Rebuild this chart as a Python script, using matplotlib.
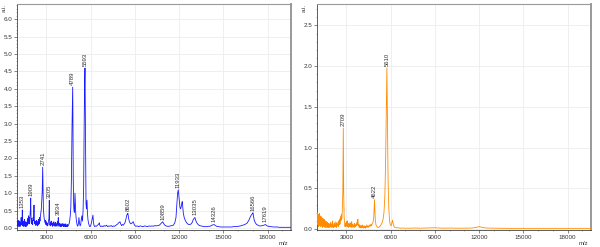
import matplotlib
matplotlib.use("Agg")
import matplotlib.pyplot as plt
from matplotlib.ticker import MultipleLocator, FormatStrFormatter

plt.rcParams['font.family'] = ['Liberation Sans', 'DejaVu Sans']

# ---------------- data: left spectrum (blue) ----------------
left_mz = [1000, 1020, 1040, 1060, 1080, 1100, 1120, 1140, 1160, 1180, 1200, 1220, 1240, 1260, 1280, 1300, 1320, 1340,
           1360, 1380, 1400, 1420, 1440, 1460, 1480, 1500, 1520, 1540, 1560, 1580, 1600, 1620, 1640, 1660, 1680, 1700,
           1720, 1740, 1760, 1780, 1800, 1820, 1840, 1860, 1880, 1905, 1930, 1950, 1970, 1990, 2010, 2030, 2060, 2090,
           2120, 2153, 2175, 2200, 2225, 2250, 2275, 2300, 2325, 2350, 2375, 2400, 2425, 2450, 2475, 2500, 2530, 2560,
           2590, 2620, 2650, 2680, 2710, 2742, 2765, 2790, 2815, 2840, 2870, 2900, 2930, 2960, 2990, 3020, 3050, 3080,
           3110, 3140, 3165, 3190, 3210, 3235, 3260, 3290, 3320, 3350, 3380, 3410, 3440, 3470, 3500, 3530, 3560, 3590,
           3620, 3650, 3680, 3710, 3740, 3770, 3800, 3825, 3850, 3880, 3910, 3940, 3970, 4000, 4030, 4060, 4090, 4120,
           4150, 4180, 4210, 4240, 4270, 4300, 4330, 4360, 4390, 4420, 4450, 4490, 4530, 4570, 4610, 4650, 4690, 4730,
           4760, 4776, 4795, 4815, 4840, 4865, 4890, 4910, 4932, 4955, 4980, 5010, 5040, 5080, 5120, 5160, 5200, 5240,
           5280, 5320, 5360, 5400, 5440, 5480, 5520, 5560, 5590, 5610, 5630, 5655, 5680, 5710, 5746, 5775, 5810, 5850,
           5890, 5930, 5980, 6030, 6080, 6120, 6150, 6180, 6220, 6270, 6330, 6390, 6450, 6510, 6550, 6580, 6620, 6680,
           6750, 6830, 6910, 6990, 7070, 7150, 7230, 7310, 7390, 7470, 7550, 7630, 7710, 7780, 7840, 7890, 7940, 7983,
           8030, 8090, 8150, 8210, 8270, 8330, 8390, 8450, 8490, 8520, 8560, 8610, 8670, 8730, 8790, 8840, 8885, 8930,
           8990, 9060, 9150, 9250, 9350, 9450, 9550, 9650, 9750, 9850, 9950, 10050, 10150, 10250, 10350, 10450, 10550,
           10650, 10740, 10820, 10878, 10930, 11000, 11100, 11200, 11300, 11400, 11500, 11600, 11700, 11780, 11840,
           11890, 11935, 11970, 12010, 12050, 12090, 12140, 12180, 12207, 12240, 12280, 12340, 12410, 12490, 12570,
           12650, 12730, 12810, 12880, 12950, 13010, 13068, 13120, 13190, 13280, 13380, 13480, 13580, 13680, 13780,
           13880, 13980, 14080, 14180, 14270, 14356, 14430, 14530, 14650, 14800, 14950, 15100, 15250, 15400, 15550,
           15700, 15850, 16000, 16150, 16300, 16450, 16600, 16720, 16820, 16900, 16960, 17000, 17040, 17090, 17160,
           17250, 17350, 17450, 17550, 17650, 17730, 17790, 17850, 17900, 17960, 18050, 18200, 18400, 18600, 18800,
           19000, 19200, 19400, 19580]
left_int = [0.12, 0.05, 0.18, 0.08, 0.22, 0.06, 0.15, 0.04, 0.20, 0.07, 0.13, 0.05, 0.17, 0.08, 0.30, 0.10, 0.22, 0.14,
            0.52, 0.15, 0.06, 0.20, 0.05, 0.14, 0.07, 0.25, 0.06, 0.12, 0.04, 0.18, 0.06, 0.10, 0.05, 0.16, 0.07, 0.22,
            0.10, 0.28, 0.12, 0.35, 0.15, 0.30, 0.12, 0.25, 0.40, 0.50, 0.86, 0.30, 0.15, 0.28, 0.12, 0.22, 0.10, 0.30,
            0.22, 0.66, 0.25, 0.12, 0.20, 0.08, 0.18, 0.10, 0.22, 0.08, 0.15, 0.06, 0.20, 0.10, 0.25, 0.12, 0.30, 0.20,
            0.35, 0.45, 0.55, 0.80, 1.05, 1.75, 1.10, 0.55, 0.40, 0.28, 0.22, 0.15, 0.22, 0.10, 0.18, 0.08, 0.14, 0.06,
            0.12, 0.20, 0.28, 0.80, 0.22, 0.08, 0.15, 0.06, 0.20, 0.10, 0.15, 0.05, 0.13, 0.08, 0.18, 0.06, 0.12, 0.05,
            0.16, 0.08, 0.12, 0.05, 0.18, 0.10, 0.30, 0.10, 0.05, 0.14, 0.06, 0.12, 0.04, 0.10, 0.05, 0.13, 0.06, 0.11,
            0.04, 0.12, 0.05, 0.10, 0.04, 0.12, 0.05, 0.09, 0.04, 0.10, 0.05, 0.08, 0.12, 0.20, 0.35, 0.60, 1.40, 2.90,
            3.70, 4.05, 3.00, 1.40, 0.70, 0.50, 0.45, 0.70, 1.00, 0.75, 0.45, 0.28, 0.18, 0.08, 0.05, 0.12, 0.30, 0.14,
            0.06, 0.10, 0.25, 0.35, 0.20, 0.50, 1.20, 3.20, 4.20, 4.60, 3.40, 1.50, 0.70, 0.55, 0.80, 0.45, 0.25, 0.14,
            0.08, 0.04, 0.05, 0.12, 0.22, 0.30, 0.37, 0.18, 0.08, 0.04, 0.06, 0.05, 0.08, 0.10, 0.12, 0.15, 0.07, 0.04,
            0.06, 0.04, 0.07, 0.05, 0.08, 0.04, 0.06, 0.05, 0.07, 0.04, 0.06, 0.05, 0.08, 0.10, 0.12, 0.15, 0.16, 0.18,
            0.12, 0.07, 0.10, 0.08, 0.12, 0.16, 0.26, 0.38, 0.40, 0.42, 0.30, 0.20, 0.14, 0.12, 0.14, 0.17, 0.18, 0.12,
            0.07, 0.05, 0.06, 0.04, 0.06, 0.05, 0.04, 0.06, 0.05, 0.04, 0.06, 0.05, 0.06, 0.05, 0.07, 0.06, 0.07,
            0.08, 0.12, 0.16, 0.18, 0.14, 0.09, 0.06, 0.05, 0.05, 0.06, 0.07, 0.08, 0.15, 0.30, 0.70,
            1.00, 1.10, 0.95, 0.75, 0.60, 0.55, 0.62, 0.72, 0.76, 0.60, 0.42, 0.30, 0.22, 0.16, 0.12,
            0.10, 0.10, 0.12, 0.16, 0.24, 0.28, 0.30, 0.22, 0.15, 0.10, 0.07, 0.06, 0.05, 0.04, 0.04,
            0.04, 0.05, 0.05, 0.07, 0.09, 0.10, 0.08, 0.05, 0.04, 0.03, 0.03, 0.03, 0.03, 0.03, 0.03,
            0.04, 0.04, 0.05, 0.06, 0.08, 0.10, 0.14, 0.22, 0.32, 0.38, 0.41, 0.44, 0.33, 0.22, 0.15,
            0.10, 0.08, 0.06, 0.06, 0.07, 0.08, 0.09, 0.10, 0.08, 0.06, 0.05, 0.04, 0.03, 0.03, 0.02,
            0.02, 0.02, 0.02, 0.02]
left_peak_mz = [1360, 1930, 2742, 3190, 3800, 4776, 5610, 8520, 10878, 11935, 13068, 14356, 17000, 17850]
left_peak_int = [0.52, 0.86, 1.75, 0.80, 0.30, 4.05, 4.60, 0.42, 0.18, 1.10, 0.30, 0.10, 0.44, 0.10]
left_peak_lbl = ["1353", "1909", "2741", "3205", "3934", "4789", "5593", "8602", "10859", "11933", "13035",
                 "14326", "16566", "17619"]

# ---------------- data: right spectrum (orange) ----------------
right_mz = [1000, 1020, 1040, 1060, 1080, 1100, 1120, 1140, 1160, 1180, 1200, 1220, 1240, 1260, 1280, 1300, 1320,
            1340, 1360, 1380, 1400, 1420, 1440, 1460, 1480, 1500, 1520, 1540, 1560, 1580, 1600, 1620, 1640, 1660,
            1680, 1700, 1720, 1740, 1760, 1780, 1800, 1820, 1840, 1860, 1880, 1900, 1930, 1960, 1990, 2020, 2050,
            2080, 2110, 2140, 2170, 2200, 2230, 2260, 2290, 2320, 2350, 2380, 2410, 2440, 2470, 2500, 2530, 2560,
            2590, 2620, 2650, 2680, 2710, 2750, 2783, 2810, 2840, 2870, 2900, 2930, 2960, 2990, 3020, 3050, 3080,
            3110, 3140, 3170, 3200, 3230, 3260, 3290, 3320, 3350, 3380, 3410, 3440, 3470, 3500, 3530, 3560, 3590,
            3620, 3650, 3680, 3710, 3740, 3770, 3800, 3830, 3860, 3890, 3920, 3950, 3980, 4010, 4040, 4070, 4100,
            4130, 4160, 4190, 4220, 4250, 4280, 4310, 4340, 4380, 4420, 4460, 4500, 4550, 4600, 4650, 4700, 4750,
            4800, 4850, 4900, 4950, 5000, 5060, 5120, 5180, 5240, 5300, 5360, 5420, 5480, 5540, 5600, 5650, 5700,
            5740, 5780, 5820, 5870, 5920, 5970, 6020, 6070, 6120, 6170, 6220, 6270, 6320, 6400, 6500, 6650, 6800,
            7000, 7300, 7600, 8000, 8500, 9000, 9500, 10000, 10500, 11000, 11500, 11800, 12000, 12200, 12500, 13000,
            14000, 15000, 16000, 17000, 18000, 19000, 19580]
right_int = [0.15, 0.05, 0.20, 0.08, 0.18, 0.03, 0.14, 0.06, 0.19, 0.04, 0.12, 0.05, 0.16, 0.03, 0.11, 0.06, 0.15,
             0.04, 0.10, 0.02, 0.13, 0.05, 0.09, 0.03, 0.12, 0.04, 0.08, 0.02, 0.10, 0.04, 0.07, 0.02, 0.09, 0.03,
             0.06, 0.02, 0.08, 0.03, 0.05, 0.02, 0.07, 0.03, 0.06, 0.02, 0.05, 0.03, 0.08, 0.02, 0.06, 0.03, 0.10,
             0.02, 0.05, 0.02, 0.07, 0.03, 0.09, 0.03, 0.06, 0.02, 0.08, 0.04, 0.06, 0.03, 0.10, 0.05, 0.12, 0.06,
             0.15, 0.10, 0.18, 0.12, 0.20, 0.45, 1.24, 0.45, 0.15, 0.08, 0.03, 0.07, 0.03, 0.09, 0.04, 0.10, 0.03,
             0.07, 0.02, 0.06, 0.03, 0.08, 0.03, 0.07, 0.02, 0.09, 0.04, 0.06, 0.02, 0.05, 0.03, 0.07, 0.02, 0.05,
             0.03, 0.06, 0.04, 0.08, 0.05, 0.12, 0.04, 0.06, 0.02, 0.05, 0.02, 0.04, 0.01, 0.04, 0.02, 0.05, 0.02,
             0.04, 0.01, 0.03, 0.02, 0.04, 0.01, 0.03, 0.02, 0.05, 0.02, 0.04, 0.02, 0.05, 0.03, 0.06, 0.04, 0.07,
             0.08, 0.15, 0.36, 0.12, 0.05, 0.03, 0.02, 0.02, 0.03, 0.04, 0.06, 0.08, 0.12, 0.20, 0.40, 0.80, 1.50,
             1.98, 1.30, 0.60, 0.25, 0.10, 0.05, 0.04, 0.07, 0.11, 0.06, 0.03, 0.02, 0.02, 0.015, 0.015, 0.01, 0.012,
             0.01, 0.01, 0.012, 0.01, 0.012, 0.015, 0.01, 0.012, 0.01, 0.01, 0.012, 0.02, 0.03, 0.02, 0.012, 0.01,
             0.008, 0.008, 0.008, 0.008, 0.008, 0.008, 0.008]
right_peak_mz = [2783, 4900, 5740]
right_peak_int = [1.24, 0.36, 1.98]
right_peak_lbl = ["2709", "4622", "5610"]

x_ticks = [3000, 6000, 9000, 12000, 15000, 18000]
x_range = (1000, 19580)
left_yrange = (-0.057, 6.44)
right_yrange = (-0.012, 2.764)

# ---------------- figure ----------------
fig = plt.figure(figsize=(6.0, 2.47), dpi=100)
axL = fig.add_axes([17 / 600, 1 - 230 / 247, 274 / 600, 226 / 247])
axR = fig.add_axes([317 / 600, 1 - 230 / 247, 274 / 600, 226 / 247])

specs = [
    (axL, left_mz, left_int, left_peak_mz, left_peak_int, left_peak_lbl, '#1a1aff', left_yrange),
    (axR, right_mz, right_int, right_peak_mz, right_peak_int, right_peak_lbl, '#ff8c00', right_yrange),
]
for ax, mz, it, pmz, pint, plbl, col, yr in specs:
    ax.plot(mz, it, color=col, lw=0.6, zorder=3)
    for x, y, t in zip(pmz, pint, plbl):
        ax.annotate(t, (x, y), xytext=(0, 1.5), textcoords='offset points', rotation=90,
                    ha='center', va='bottom', fontsize=4.3, color='#333333', zorder=4)
    ax.set_xlim(*x_range)
    ax.set_ylim(*yr)
    ax.set_xticks(x_ticks)
    ax.xaxis.set_minor_locator(MultipleLocator(1000))
    ax.yaxis.set_major_locator(MultipleLocator(0.5))
    ax.yaxis.set_minor_locator(MultipleLocator(0.1))
    ax.grid(True, which='major', color='#ececec', lw=0.6, zorder=0)
    ax.tick_params(axis='both', which='major', labelsize=4.5, length=2, width=0.5, pad=1.5,
                   colors='#555555', labelcolor='#333333')
    ax.tick_params(axis='both', which='minor', length=1, width=0.4, colors='#777777')
    ax.yaxis.set_major_formatter(FormatStrFormatter('%.1f'))
    for s in ['left', 'bottom']:
        ax.spines[s].set_color('#444444')
        ax.spines[s].set_linewidth(0.6)
    ax.spines['top'].set_color('#999999')
    ax.spines['top'].set_linewidth(0.8)
    ax.spines['right'].set_color('#999999')
    ax.spines['right'].set_linewidth(1.4)

for x0 in (0, 300):
    fig.text((x0 + 4) / 600, 1 - 8 / 247, 'a.i.', rotation=90, fontsize=4.3, color='#333333',
             ha='center', va='center')
    fig.text((x0 + 283) / 600, 1 - 243 / 247, 'm/z', fontsize=4.3, color='#333333', ha='center', va='center')

fig.savefig('out.png', dpi=100)
